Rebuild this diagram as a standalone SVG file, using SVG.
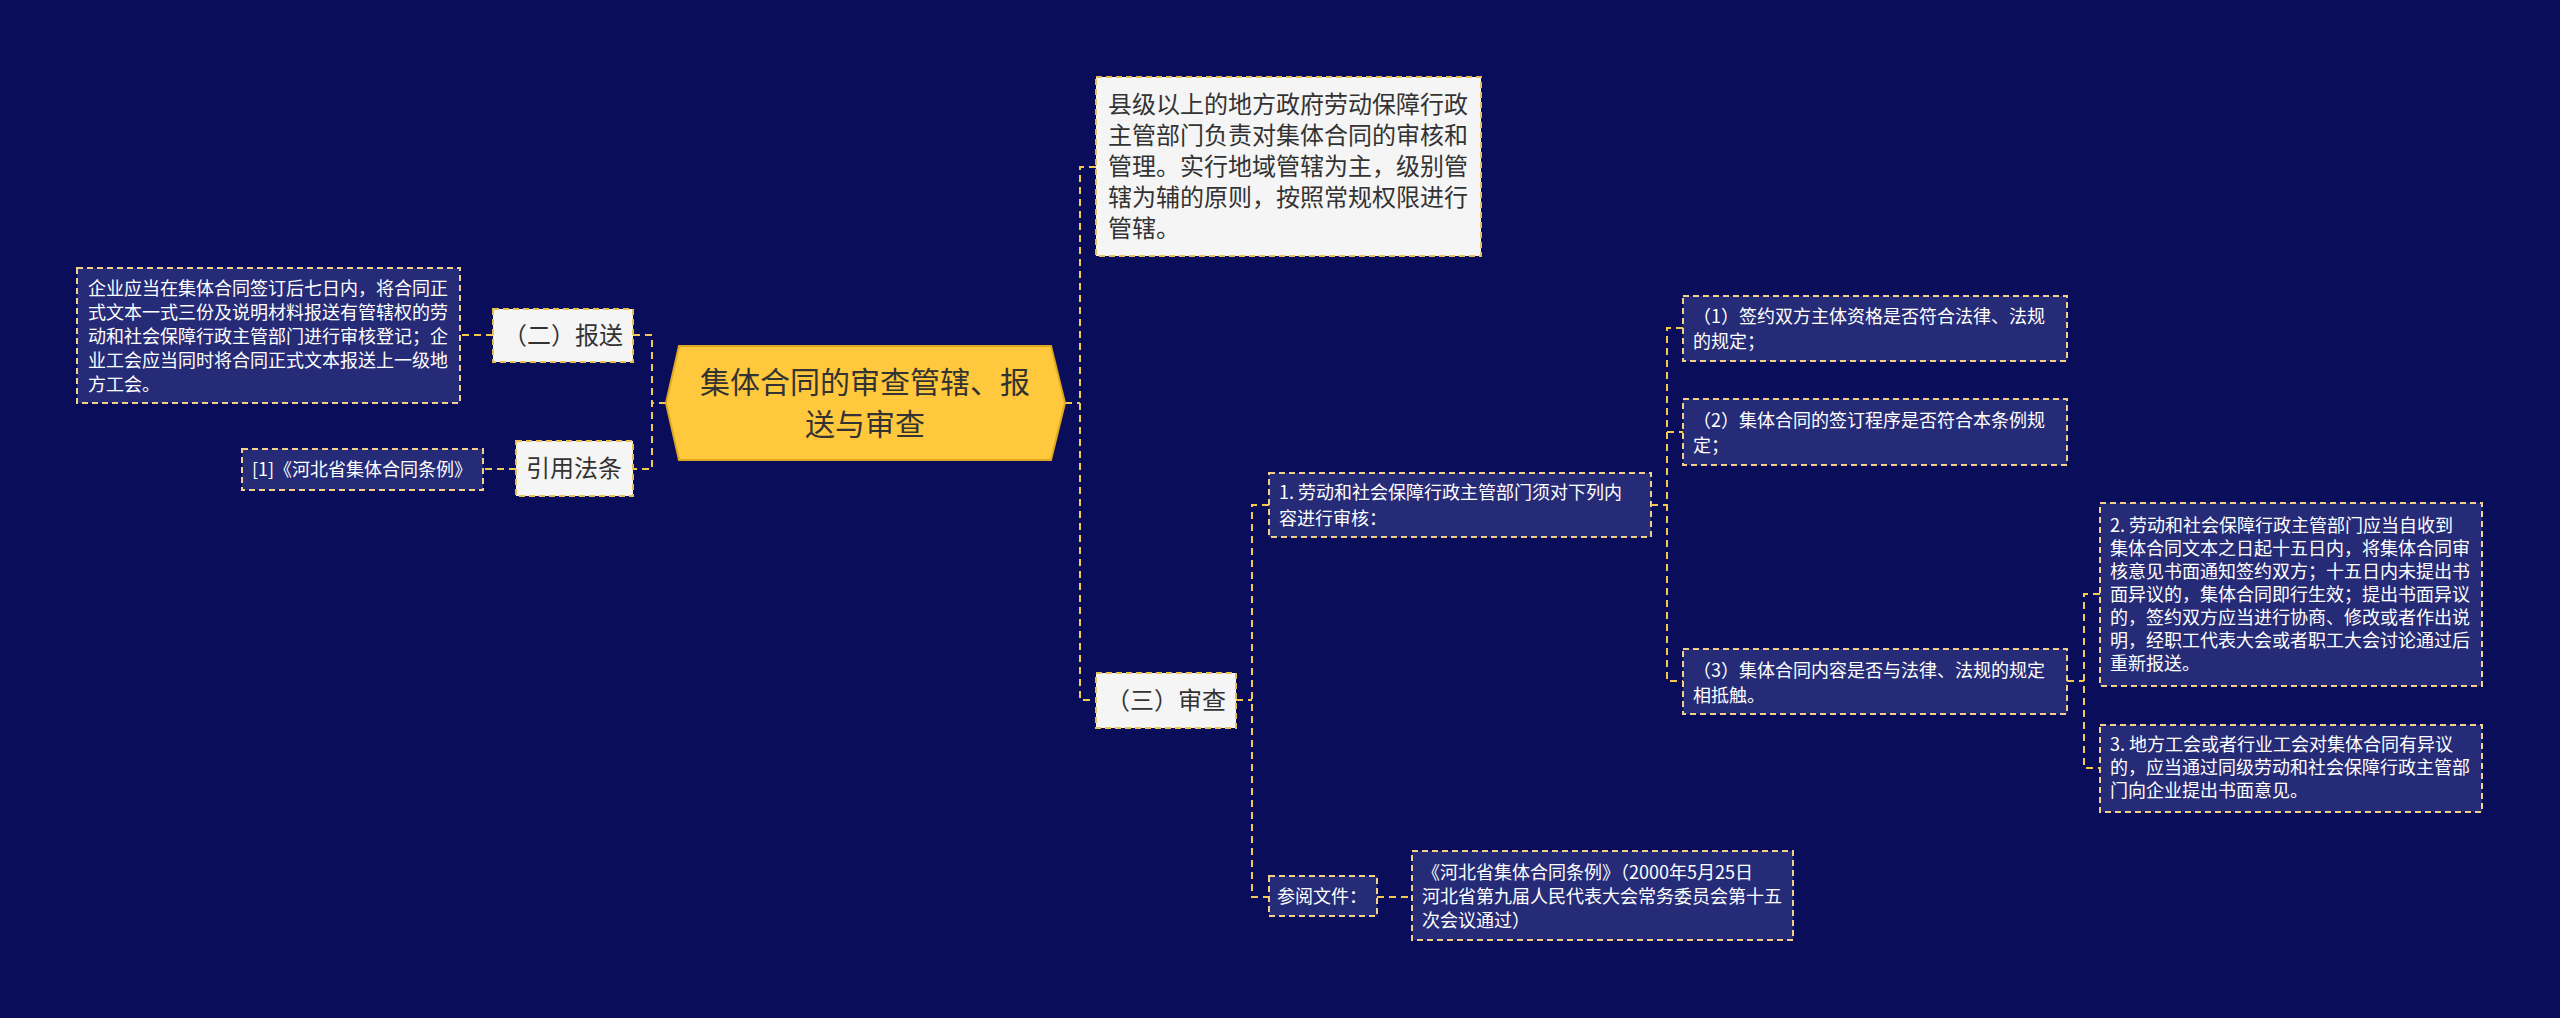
<svg xmlns="http://www.w3.org/2000/svg" width="2560" height="1018" viewBox="0 0 2560 1018">
<style>
.bg{fill:#0a0e5a}
.dk{fill:#262b78;stroke:#f2d08a;stroke-width:2;stroke-dasharray:6 4}
.lt{fill:#f5f5f5;stroke:#e8bf55;stroke-width:2;stroke-dasharray:6 4}
.c{fill:none;stroke:#f2c84e;stroke-width:2;stroke-dasharray:7 5}
text{font-family:"Noto Sans CJK SC","Noto Sans",sans-serif}
.w{fill:#ffffff;font-size:18px}
.d{fill:#333333;font-size:24px}
.r{fill:#333333;font-size:30px}
</style>
<rect class="bg" width="2560" height="1018"/>
<g id="connectors">
<path class="c" d="M666 403H652M633 335H652V469H633"/>
<path class="c" d="M493 335H460"/>
<path class="c" d="M516 469H483"/>
<path class="c" d="M1065 403H1080M1096 167H1080V700H1096"/>
<path class="c" d="M1236 700H1252M1269 505H1252V897H1269"/>
<path class="c" d="M1651 505H1667M1683 328H1667V681H1683M1667 432H1683"/>
<path class="c" d="M2067 681H2084M2100 594H2084V768H2100"/>
<path class="c" d="M1377 897H1412"/>
</g>
<g id="root">
<polygon points="679,346 1051,346 1065,403 1051,460 679,460 666,403" fill="#ffc83d" stroke="#e0a820" stroke-width="2"/>
<text class="r" x="865" y="393" text-anchor="middle">集体合同的审查管辖、报</text>
<text class="r" x="865" y="435" text-anchor="middle">送与审查</text>
</g>
<g id="n-baosong">
<rect class="lt" x="493" y="309" width="140" height="53"/>
<text class="d" x="563" y="344" text-anchor="middle">（二）报送</text>
</g>
<g id="n-yinyong">
<rect class="lt" x="516" y="441" width="117" height="55"/>
<text class="d" x="574" y="477" text-anchor="middle">引用法条</text>
</g>
<g id="n-baosong-text">
<rect class="dk" x="77" y="268" width="383" height="135"/>
<text class="w" x="88" y="295">企业应当在集体合同签订后七日内，将合同正</text>
<text class="w" x="88" y="319">式文本一式三份及说明材料报送有管辖权的劳</text>
<text class="w" x="88" y="343">动和社会保障行政主管部门进行审核登记；企</text>
<text class="w" x="88" y="367">业工会应当同时将合同正式文本报送上一级地</text>
<text class="w" x="88" y="391">方工会。</text>
</g>
<g id="n-law">
<rect class="dk" x="242" y="449" width="241" height="41"/>
<text class="w" x="362" y="476" text-anchor="middle">[1]《河北省集体合同条例》</text>
</g>
<g id="n-guanxia">
<rect class="lt" x="1096" y="77" width="385" height="179"/>
<text class="d" x="1108" y="113">县级以上的地方政府劳动保障行政</text>
<text class="d" x="1108" y="144">主管部门负责对集体合同的审核和</text>
<text class="d" x="1108" y="175">管理。实行地域管辖为主，级别管</text>
<text class="d" x="1108" y="206">辖为辅的原则，按照常规权限进行</text>
<text class="d" x="1108" y="237">管辖。</text>
</g>
<g id="n-shencha">
<rect class="lt" x="1096" y="673" width="140" height="55"/>
<text class="d" x="1166" y="709" text-anchor="middle">（三）审查</text>
</g>
<g id="n-1">
<rect class="dk" x="1269" y="473" width="382" height="64"/>
<text class="w" x="1279" y="499">1. 劳动和社会保障行政主管部门须对下列内</text>
<text class="w" x="1279" y="525">容进行审核：</text>
</g>
<g id="n-1-1">
<rect class="dk" x="1683" y="296" width="384" height="65"/>
<text class="w" x="1693" y="323">（1）签约双方主体资格是否符合法律、法规</text>
<text class="w" x="1693" y="348">的规定；</text>
</g>
<g id="n-1-2">
<rect class="dk" x="1683" y="399" width="384" height="66"/>
<text class="w" x="1693" y="427">（2）集体合同的签订程序是否符合本条例规</text>
<text class="w" x="1693" y="452">定；</text>
</g>
<g id="n-1-3">
<rect class="dk" x="1683" y="649" width="384" height="65"/>
<text class="w" x="1693" y="677">（3）集体合同内容是否与法律、法规的规定</text>
<text class="w" x="1693" y="702">相抵触。</text>
</g>
<g id="n-2">
<rect class="dk" x="2100" y="503" width="382" height="183"/>
<text class="w" x="2110" y="532">2. 劳动和社会保障行政主管部门应当自收到</text>
<text class="w" x="2110" y="555">集体合同文本之日起十五日内，将集体合同审</text>
<text class="w" x="2110" y="578">核意见书面通知签约双方；十五日内未提出书</text>
<text class="w" x="2110" y="601">面异议的，集体合同即行生效；提出书面异议</text>
<text class="w" x="2110" y="624">的，签约双方应当进行协商、修改或者作出说</text>
<text class="w" x="2110" y="647">明，经职工代表大会或者职工大会讨论通过后</text>
<text class="w" x="2110" y="670">重新报送。</text>
</g>
<g id="n-3">
<rect class="dk" x="2100" y="725" width="382" height="87"/>
<text class="w" x="2110" y="751">3. 地方工会或者行业工会对集体合同有异议</text>
<text class="w" x="2110" y="774">的，应当通过同级劳动和社会保障行政主管部</text>
<text class="w" x="2110" y="797">门向企业提出书面意见。</text>
</g>
<g id="n-canyue">
<rect class="dk" x="1269" y="876" width="108" height="40"/>
<text class="w" x="1277" y="903">参阅文件：</text>
</g>
<g id="n-canyue-doc">
<rect class="dk" x="1412" y="851" width="381" height="89"/>
<text class="w" x="1422" y="879">《河北省集体合同条例》（2000年5月25日</text>
<text class="w" x="1422" y="903">河北省第九届人民代表大会常务委员会第十五</text>
<text class="w" x="1422" y="927">次会议通过）</text>
</g>
</svg>
